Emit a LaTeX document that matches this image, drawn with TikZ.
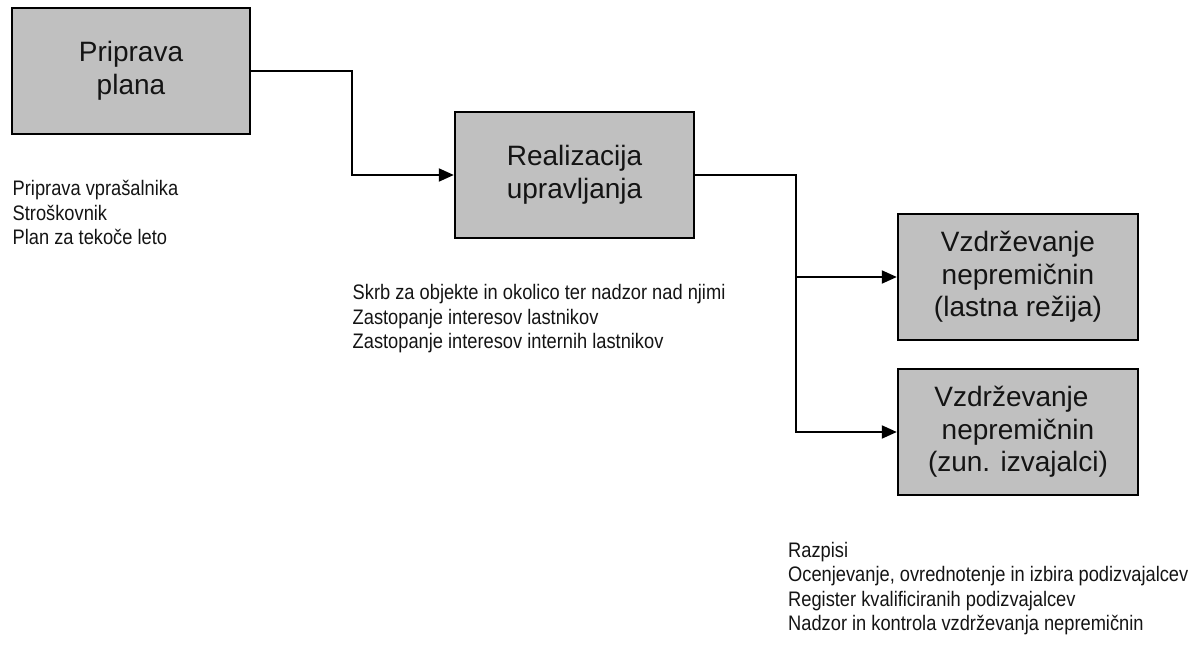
\documentclass[tikz,border=0pt]{standalone}
\usepackage{fontspec}
\setmainfont{Liberation Sans}
\newfontfamily\narrowfont[FakeStretch=0.87]{Liberation Sans}
\usetikzlibrary{arrows.meta}
\definecolor{boxgray}{RGB}{192,192,192}
\definecolor{inkgray}{RGB}{20,20,20}
\begin{document}
\begin{tikzpicture}[x=1pt,y=-1pt,
  stepbox/.style={draw=black, line width=2.4pt, fill=boxgray,
    minimum width=240pt, minimum height=126pt, inner sep=0pt,
    align=center, text=inkgray, font=\fontsize{28}{32.5}\selectfont},
  notes/.style={anchor=north west, inner sep=0pt, align=left, text=inkgray,
    font=\narrowfont\fontsize{21}{24.5}\selectfont},
  link/.style={line width=2pt, -{Triangle[length=15pt,width=13pt]}}]
  \useasboundingbox (0,0) rectangle (1200,648);

  % process boxes
  \node[stepbox, minimum width=238pt] (plan) at (131,71) {Priprava\\plana};
  \node[stepbox, minimum width=239pt] (real) at (574.5,175) {Realizacija\\upravljanja};
  \node[stepbox] (own) at (1018,277) {Vzdrževanje\\nepremičnin\\(lastna režija)};
  \node[stepbox] (ext) at (1018,432) {Vzdrževanje\kern13pt\\nepremičnin\\(zun. izvajalci)};

  % routing points of the elbow connectors
  \coordinate (bendA) at (352,71);
  \coordinate (bendB) at (796,175);

  \draw[link] (plan.east) -- (bendA) |- (real.west);
  \draw[link] (real.east) -- (bendB) |- (own.west);
  \draw[link] (bendB) |- (ext.west);

  % task lists under the boxes
  \node[notes] (planlist) at (12.5,178.5)
    {\strut Priprava vprašalnika\\Stroškovnik\\Plan za tekoče leto};
  \node[notes] (reallist) at (352.5,282.5)
    {\strut Skrb za objekte in okolico ter nadzor nad njimi\\Zastopanje interesov lastnikov\\Zastopanje interesov internih lastnikov};
  \node[notes] (extlist) at (788,540)
    {\strut Razpisi\\Ocenjevanje, ovrednotenje in izbira podizvajalcev\\Register kvalificiranih podizvajalcev\\Nadzor in kontrola vzdrževanja nepremičnin};
\end{tikzpicture}
\end{document}
